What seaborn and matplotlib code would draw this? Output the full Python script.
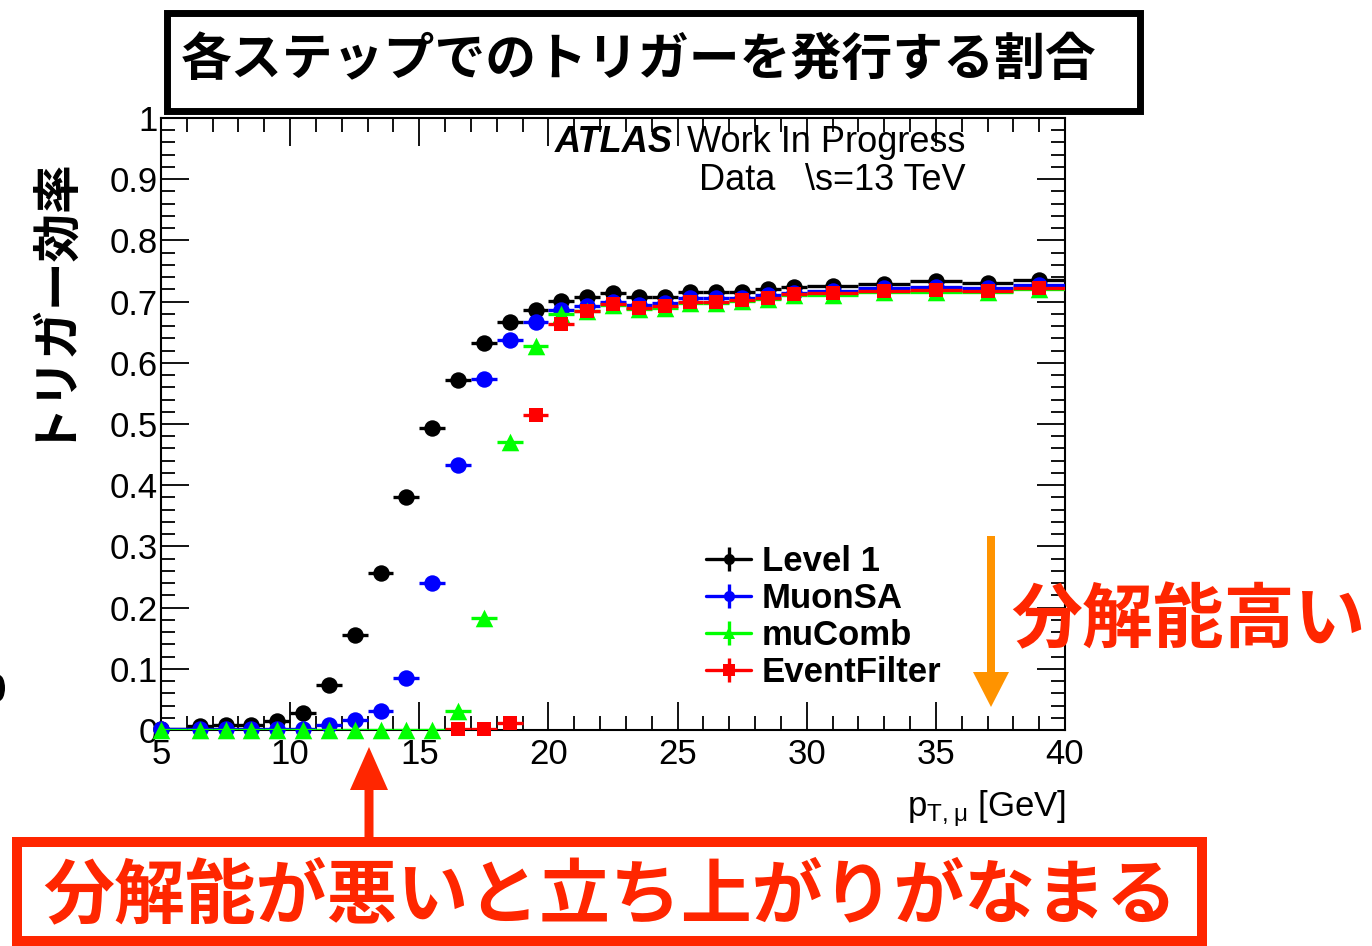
import numpy as np
import pandas as pd
import matplotlib
matplotlib.use("Agg")
import matplotlib.pyplot as plt
import seaborn as sns
from matplotlib.patches import Rectangle, FancyArrow, Ellipse
from matplotlib.lines import Line2D
from matplotlib.legend_handler import HandlerTuple
from matplotlib.ticker import MultipleLocator, FuncFormatter

# ---------------- data ----------------
# muon pT bin edges [GeV]
bin_edges = [4, 6, 7, 8, 9, 10, 11, 12, 13, 14, 15, 16, 17, 18, 19, 20,
             21, 22, 23, 24, 25, 26, 27, 28, 29, 30, 32, 34, 36, 38, 40]

eff_level1 = [0.001, 0.006, 0.008, 0.008, 0.014, 0.028, 0.074, 0.156, 0.257, 0.380,
              0.494, 0.572, 0.632, 0.666, 0.687, 0.701, 0.708, 0.714, 0.707, 0.708,
              0.716, 0.716, 0.716, 0.720, 0.724, 0.726, 0.729, 0.733, 0.730, 0.735]
eff_muonsa = [0.001, 0.002, 0.001, 0.002, 0.001, 0.002, 0.008, 0.016, 0.031, 0.085,
              0.240, 0.433, 0.574, 0.637, 0.667, 0.686, 0.693, 0.700, 0.694, 0.697,
              0.706, 0.706, 0.706, 0.711, 0.714, 0.718, 0.722, 0.724, 0.722, 0.727]
eff_mucomb = [0.0, 0.0, 0.0, 0.0, 0.0, 0.0, 0.0, 0.0, 0.0, 0.0,
              0.0, 0.031, 0.183, 0.471, 0.627, 0.679, 0.684, 0.694, 0.688, 0.690,
              0.698, 0.698, 0.701, 0.704, 0.710, 0.711, 0.715, 0.716, 0.715, 0.720]
eff_eventfilter = [np.nan, np.nan, np.nan, np.nan, np.nan, np.nan, np.nan, np.nan, np.nan, np.nan,
                   np.nan, 0.001, 0.001, 0.011, 0.515, 0.664, 0.684, 0.696, 0.690, 0.692,
                   0.700, 0.700, 0.703, 0.706, 0.713, 0.714, 0.717, 0.719, 0.717, 0.723]

trigger_names = ["Level 1", "MuonSA", "muComb", "EventFilter"]
trigger_colors = ["#000000", "#0000ff", "#00ff00", "#ff0000"]
trigger_markers = ["o", "o", "^", "s"]
marker_sizes = [140, 140, 160, 95]

edges = np.array(bin_edges, dtype=float)
lo, hi = edges[:-1], edges[1:]
centers = 0.5 * (lo + hi)

frames = []
for name, vals in zip(trigger_names, [eff_level1, eff_muonsa, eff_mucomb, eff_eventfilter]):
    frames.append(pd.DataFrame({"pt": centers, "lo": lo, "hi": hi,
                                "eff": vals, "trigger": name}))
df = pd.concat(frames, ignore_index=True)

# ---------------- style ----------------
sns.set_theme(style="ticks")
plt.rcParams["font.family"] = ["Liberation Sans", "Noto Sans CJK JP", "DejaVu Sans"]
plt.rcParams["mathtext.default"] = "regular"
plt.rcParams["text.color"] = "black"

W, H = 1372, 946
fig = plt.figure(figsize=(W / 100, H / 100), dpi=100)
fig.patch.set_facecolor("white")

ax = fig.add_axes([161 / W, 1 - 730 / H, (1065 - 161) / W, (730 - 118) / H])
ax.set_facecolor("white")

for i, (name, col, mk, ms) in enumerate(zip(trigger_names, trigger_colors,
                                            trigger_markers, marker_sizes)):
    sub = df[df["trigger"] == name].dropna()
    z = 3 + i
    ax.hlines(sub["eff"], sub["lo"], sub["hi"], color=col, lw=2.4, zorder=z)
    sns.scatterplot(data=sub, x="pt", y="eff", color=col, marker=mk, s=ms,
                    linewidth=0, zorder=z + 0.5, clip_on=False, ax=ax, legend=False)

ax.set_xlim(5, 40)
ax.set_ylim(0, 1)
ax.set_xlabel("")
ax.set_ylabel("")

ax.xaxis.set_major_locator(MultipleLocator(5))
ax.xaxis.set_minor_locator(MultipleLocator(1))
ax.yaxis.set_major_locator(MultipleLocator(0.1))
ax.yaxis.set_minor_locator(MultipleLocator(0.02))
ax.yaxis.set_major_formatter(FuncFormatter(lambda v, p: f"{v:g}"))
ax.xaxis.set_major_formatter(FuncFormatter(lambda v, p: f"{v:g}"))

ax.tick_params(which="both", direction="in", top=True, right=True,
               width=1.3, color="black", labelcolor="black")
ax.tick_params(which="major", length=20, labelsize=25)
ax.tick_params(which="minor", length=10)
ax.tick_params(axis="x", which="major", pad=6)
ax.tick_params(axis="y", which="major", pad=2)
for sp in ax.spines.values():
    sp.set_linewidth(1.5)
    sp.set_color("black")
    sp.set_visible(True)

# legend: horizontal bar + marker + vertical bar, overlaid
handles = []
for col, mk in zip(trigger_colors, trigger_markers):
    h1 = Line2D([], [], color=col, lw=2.4, marker=mk, ms=8, mew=0)
    h2 = Line2D([], [], color=col, marker="|", ms=17, mew=2.4, ls="none")
    handles.append((h1, h2))
leg = fig.legend(handles, trigger_names, handler_map={tuple: HandlerTuple(ndivide=1)},
                 loc="upper left", bbox_to_anchor=(706 / W, 1 - 545 / H),
                 borderaxespad=0, borderpad=0, frameon=False, numpoints=1,
                 handlelength=1.3, handletextpad=0.3, labelspacing=0.12,
                 prop={"family": "Liberation Sans", "weight": "bold", "size": 25})
for t in leg.get_texts():
    t.set_color("black")

# ---------------- overlay in pixel units ----------------
ov = fig.add_axes([0, 0, 1, 1])
ov.set_xlim(0, W)
ov.set_ylim(H, 0)
ov.axis("off")

jp = ["Noto Sans CJK JP", "DejaVu Sans"]
red = "#ff2600"
orange = "#ff9300"

# title box
ov.add_patch(Rectangle((166.5, 13.5), 973, 98, facecolor="white",
                       edgecolor="black", lw=5))
ov.text(639, 61, "各ステップでのトリガーを発行する割合", family=jp, weight="bold",
        fontsize=36.6, ha="center", va="center", color="black")

# y-axis title
ov.text(45, 295, "トリガー効率", family=jp, weight="bold", fontsize=35,
        rotation=90, ha="center", va="center", color="black")

# experiment label
ov.text(555, 142, "ATLAS", fontsize=26, weight="bold", style="italic",
        ha="left", va="center", color="black")
ov.text(687, 142, "Work In Progress", fontsize=26, ha="left", va="center", color="black")
ov.text(699, 180, "Data", fontsize=26, ha="left", va="center", color="black")
ov.text(805, 180, "\\s=13 TeV", fontsize=26, ha="left", va="center", color="black")

# x-axis title
ov.text(1066, 816, r"p$_{\mathregular{T,μ}}$ [GeV]", fontsize=25,
        ha="right", va="baseline", color="black")

# resolution annotations
ov.add_patch(FancyArrow(991, 536, 0, 171, width=8, head_width=36, head_length=35,
                        length_includes_head=True, color=orange, lw=0))
ov.text(1188, 621, "分解能高い", family=jp, weight="bold", fontsize=51,
        ha="center", va="center", color=red)

ov.add_patch(FancyArrow(369, 837, 0, -90, width=9, head_width=38, head_length=43,
                        length_includes_head=True, color=red, lw=0))
ov.add_patch(Rectangle((17, 842), 1185, 99, facecolor="white", edgecolor=red, lw=7.2))
ov.text(610, 896, "分解能が悪いと立ち上がりがなまる", family=jp, weight="bold",
        fontsize=51, ha="center", va="center", color=red)

ov.add_patch(Ellipse((-1, 688), 12, 26, color="black", lw=0))

fig.savefig("out.png", dpi=100, facecolor="white")
